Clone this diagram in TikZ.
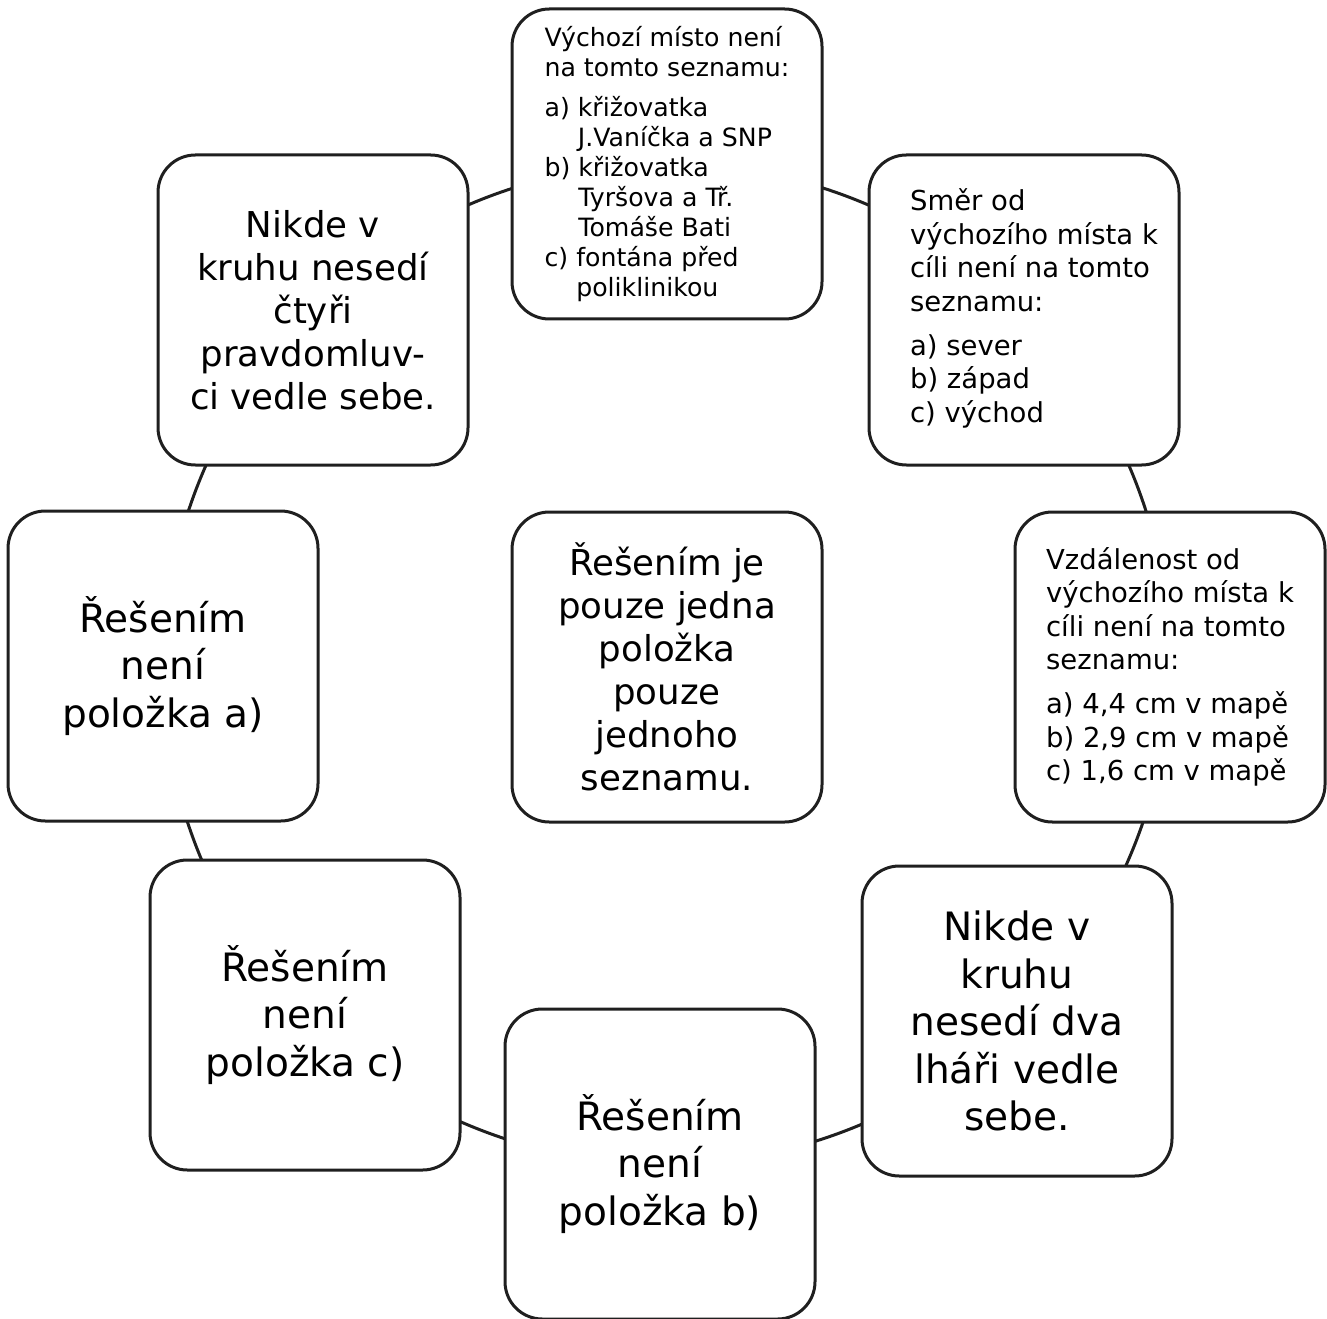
\documentclass[tikz,border=0pt]{standalone}
\usepackage{fontspec}
\setmainfont{DejaVu Sans}
\pgfdeclarelayer{background}
\pgfsetlayers{background,main}
\tikzset{
  box/.style={draw=black!88, line width=2.25pt, rounded corners=28pt, fill=white,
    minimum width=232.5pt, minimum height=232.5pt, inner sep=0pt, text=black},
  smalltxt/.style={box, align=left, font=\fontsize{18.9}{22.5}\selectfont},
  medtxt/.style={box, align=left, font=\fontsize{20.6}{25.1}\selectfont},
  bigA/.style={box, align=center, font=\fontsize{26.7}{32.3}\selectfont},
  bigB/.style={box, align=center, font=\fontsize{29.3}{35.6}\selectfont},
  ring/.style={draw=black!88, line width=2.25pt, bend left=22.5, looseness=0.885}
}
\begin{document}
\begin{tikzpicture}[x=0.75pt,y=-0.75pt]
\useasboundingbox (0,0) rectangle (1327,1319);
\node[smalltxt] (b1) at (667,164) {Výchozí místo není\\ na tomto seznamu:\\[7.5pt] a) křižovatka\\ \hphantom{a) }J.Vaníčka a SNP\\ b) křižovatka\\ \hphantom{b) }Tyršova a Tř.\\ \hphantom{b) }Tomáše Bati\\ c) fontána před\\ \hphantom{c) }poliklinikou};
\node[medtxt] (b2) at (1024,310) {\begin{tabular}{@{\hspace{15pt}}l@{}}Směr od\\ výchozího místa k\\ cíli není na tomto\\ seznamu:\\[8pt] a) sever\\ b) západ\\ c) východ\end{tabular}};
\node[medtxt] (b3) at (1170,667) {Vzdálenost od\\ výchozího místa k\\ cíli není na tomto\\ seznamu:\\[8pt] a) 4,4 cm v mapě\\ b) 2,9 cm v mapě\\ c) 1,6 cm v mapě};
\node[bigB] (b4) at (1017,1021) {Nikde v\\ kruhu\\ nesedí dva\\ lháři vedle\\ sebe.};
\node[bigB] (b5) at (660,1164) {Řešením\\ není\\ položka b)};
\node[bigB] (b6) at (305,1015) {Řešením\\ není\\ položka c)};
\node[bigB] (b7) at (163,666) {Řešením\\ není\\ položka a)};
\node[bigA] (b8) at (313,310) {Nikde v\\ kruhu nesedí\\ čtyři\\ pravdomluv-\\ ci vedle sebe.};
\node[bigA] (c) at (667,667) {Řešením je\\ pouze jedna\\ položka\\ pouze\\ jednoho\\ seznamu.};
\begin{pgfonlayer}{background}
\draw[ring] (b1.center) to (b2.center);
\draw[ring] (b2.center) to (b3.center);
\draw[ring] (b3.center) to (b4.center);
\draw[ring] (b4.center) to (b5.center);
\draw[ring] (b5.center) to (b6.center);
\draw[ring] (b6.center) to (b7.center);
\draw[ring] (b7.center) to (b8.center);
\draw[ring] (b8.center) to (b1.center);
\end{pgfonlayer}
\end{tikzpicture}
\end{document}
